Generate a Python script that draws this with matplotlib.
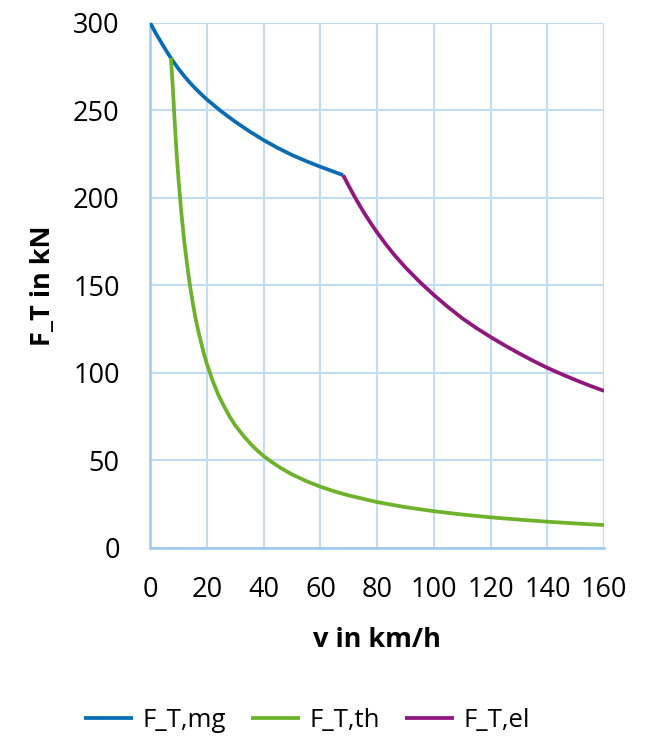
import matplotlib
matplotlib.use("Agg")
from matplotlib import pyplot as plt

# values
v_mg = [0, 2, 4, 6, 8, 10, 12, 14, 16, 18, 20, 25, 30, 35, 40, 45, 50, 55, 60, 65, 68]
f_mg = [300, 294, 288.5, 283.2, 278.2, 273.7, 269.6, 265.8, 262.4, 259.2, 256.2, 249.5, 243.5,
        238, 233, 228.5, 224.5, 221, 217.8, 214.8, 213]

v_th = [7.3, 8, 8.5, 9, 9.5, 10, 11, 12, 13, 14, 15, 16, 17, 18, 19, 20, 22, 24, 26, 28, 30, 33,
        36, 38, 40, 43, 46, 50, 55, 60, 65, 70, 80, 90, 100, 110, 120, 130, 140, 150, 160]
f_th = [280, 262, 247, 233, 221, 210, 191, 175, 162, 150, 140, 131, 123.5, 117, 110.5, 105, 95.5,
        87.5, 81, 75, 70, 63.8, 58.4, 55.3, 52.5, 48.9, 45.7, 42, 38.2, 35, 32.3, 30, 26.2, 23.3, 21,
        19.1, 17.5, 16.2, 15, 14, 13.1]

v_el = [68, 70, 72, 74, 76, 78, 80, 83, 86, 90, 95, 100, 105, 110, 115, 120, 125, 130, 135, 140,
        145, 150, 155, 160]
f_el = [213, 206.8, 200.8, 195.2, 189.9, 184.9, 180.2, 173.6, 167.5, 160.2, 152, 144.5, 137.6, 131.2,
        125.6, 120.5, 115.7, 111.2, 106.9, 102.9, 99.3, 95.9, 92.7, 89.7]

labels = ["F_T,mg", "F_T,th", "F_T,el"]
colors = ["#0a6db4", "#6db22a", "#8f177d"]

plt.rcParams['font.family'] = ['Open Sans', 'DejaVu Sans']

fig = plt.figure(figsize=(6.56, 7.39), dpi=100)
ax = fig.add_axes([0.229, 0.2585, 0.692, 0.7105])

for vv, ff, lab, c in zip([v_mg, v_th, v_el], [f_mg, f_th, f_el], labels, colors):
    ax.plot(vv, ff, color=c, lw=2.7, label=lab, solid_capstyle='butt', zorder=3)

ax.set_xlim(0, 160)
ax.set_ylim(0, 300)
ax.set_xticks(range(0, 161, 20))
ax.set_yticks(range(0, 301, 50))
ax.grid(True, color="#c2dcf5", lw=1.5, zorder=0)
ax.set_axisbelow(True)
for s in ["top", "right"]:
    ax.spines[s].set_visible(False)
for s in ["left", "bottom"]:
    ax.spines[s].set_color("#9cc8f0")
    ax.spines[s].set_linewidth(1.8)
ax.tick_params(length=0, labelsize=19.5, colors="#000000")
ax.tick_params(axis='x', pad=20)
ax.tick_params(axis='y', pad=22)

ax.set_xlabel("v in km/h", fontsize=19.5, fontweight="bold", labelpad=17)
ax.set_ylabel("F_T in kN", fontsize=19.5, fontweight="bold", labelpad=12)

fig.legend(loc="center", bbox_to_anchor=(0.468, 0.025), ncol=3, frameon=False,
           fontsize=18.5, handlelength=1.9, columnspacing=1.0, handletextpad=0.35)

fig.savefig("out.png", dpi=100)
